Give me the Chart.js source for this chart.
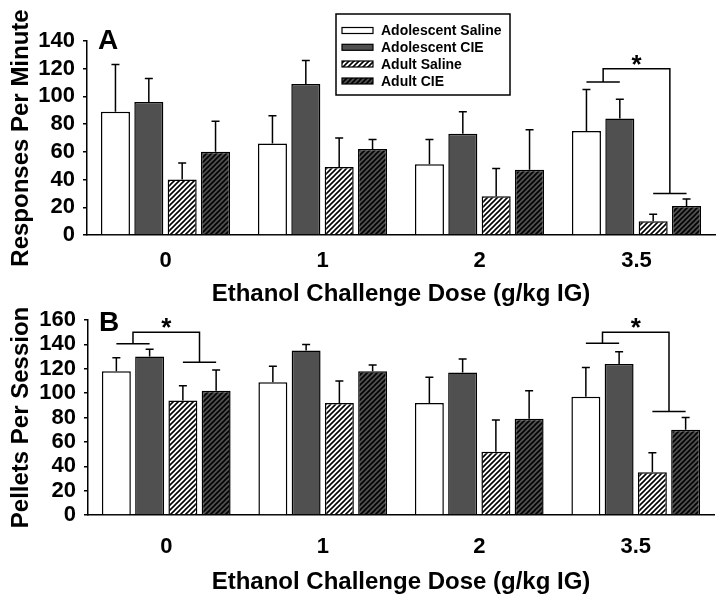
<!DOCTYPE html>
<html>
<head>
<meta charset="utf-8">
<script src="https://cdn.jsdelivr.net/npm/chart.js@4.4.1/dist/chart.umd.min.js"></script>
<style>
  html, body { margin: 0; padding: 0; background: #ffffff; }
  #wrap { position: relative; width: 722px; height: 601px; overflow: hidden; background: #fff; }
  canvas { position: absolute; left: 0; }
  #cA { top: 0; }
  #cB { top: 300px; }
</style>
</head>
<body>
<div id="wrap">
  <canvas id="cA" width="722" height="310"></canvas>
  <canvas id="cB" width="722" height="301"></canvas>
</div>
<script>
// ---------- data ----------
const doses = ['0', '1', '2', '3.5'];
const groupNames = ['Adolescent Saline', 'Adolescent CIE', 'Adult Saline', 'Adult CIE'];

// Panel A: Responses Per Minute (mean and upper SEM)
const respAdolSaline = [89, 66, 51, 75];
const respAdolSalineSem = [34, 20, 18, 30];
const respAdolCIE = [96, 109, 73, 84];
const respAdolCIESem = [17, 17, 16, 14];
const respAdultSaline = [40, 49, 28, 10];
const respAdultSalineSem = [12, 21, 20, 5];
const respAdultCIE = [60, 62, 47, 21];
const respAdultCIESem = [22, 7, 29, 5];

// Panel B: Pellets Per Session (mean and upper SEM)
const pelAdolSaline = [118, 109, 92, 97];
const pelAdolSalineSem = [11, 13, 21, 24];
const pelAdolCIE = [130, 135, 117, 124];
const pelAdolCIESem = [6, 5, 11, 10];
const pelAdultSaline = [94, 92, 52, 35];
const pelAdultSalineSem = [12, 18, 26, 16];
const pelAdultCIE = [102, 118, 79, 70];
const pelAdultCIESem = [17, 5, 23, 10];

// significance brackets: dose index, left-pair level, top level, right-pair level
const respBrackets = [{ cat: 3, left: 110.5, top: 120, right: 30 }];
const pelBrackets = [{ cat: 0, left: 140.5, top: 150, right: 125.3 },
                     { cat: 3, left: 141, top: 150, right: 85 }];

// ---------- styles ----------
const FONT = '"Liberation Sans", Arial, Helvetica, sans-serif';
const DARK = '#505050';

function hatch(bg) {
  const s = 5;
  const c = document.createElement('canvas');
  c.width = s; c.height = s;
  const g = c.getContext('2d');
  g.fillStyle = bg; g.fillRect(0, 0, s, s);
  g.strokeStyle = '#000'; g.lineWidth = 1.6; g.lineCap = 'square';
  g.beginPath();
  g.moveTo(0, s); g.lineTo(s, 0);
  g.moveTo(-1, 1); g.lineTo(1, -1);
  g.moveTo(s - 1, s + 1); g.lineTo(s + 1, s - 1);
  g.stroke();
  return g.createPattern(c, 'repeat');
}
const fills = ['#ffffff', DARK, hatch('#ffffff'), hatch(DARK)];

function makeDatasets(vals, sems) {
  return vals.map((v, i) => ({
    label: groupNames[i],
    data: v,
    errors: sems[i],
    backgroundColor: fills[i],
    borderColor: '#000',
    borderWidth: 1.5,
    borderSkipped: 'bottom',
    categoryPercentage: 0.85,
    barPercentage: 0.87
  }));
}

const errorBars = {
  id: 'errorBars',
  afterDatasetsDraw(chart) {
    const ctx = chart.ctx, y = chart.scales.y;
    ctx.save();
    ctx.strokeStyle = '#000'; ctx.lineWidth = 1.5;
    chart.data.datasets.forEach((ds, i) => {
      chart.getDatasetMeta(i).data.forEach((bar, j) => {
        const top = y.getPixelForValue(ds.data[j] + ds.errors[j]);
        ctx.beginPath();
        ctx.moveTo(bar.x, bar.y); ctx.lineTo(bar.x, top);
        ctx.moveTo(bar.x - 4, top); ctx.lineTo(bar.x + 4, top);
        ctx.stroke();
      });
    });
    ctx.restore();
  }
};

const brackets = {
  id: 'brackets',
  afterDraw(chart, args, opts) {
    const ctx = chart.ctx, y = chart.scales.y;
    ctx.save();
    ctx.strokeStyle = '#000'; ctx.lineWidth = 1.5;
    (opts.items || []).forEach(b => {
      const xs = [0, 1, 2, 3].map(i => chart.getDatasetMeta(i).data[b.cat].x);
      const yl = y.getPixelForValue(b.left), yt = y.getPixelForValue(b.top), yr = y.getPixelForValue(b.right);
      const m1 = (xs[0] + xs[1]) / 2, m2 = (xs[2] + xs[3]) / 2;
      ctx.beginPath();
      ctx.moveTo(xs[0], yl); ctx.lineTo(xs[1], yl);
      ctx.moveTo(m1, yl); ctx.lineTo(m1, yt); ctx.lineTo(m2, yt); ctx.lineTo(m2, yr);
      ctx.moveTo(xs[2], yr); ctx.lineTo(xs[3], yr);
      ctx.stroke();
      ctx.fillStyle = '#000';
      ctx.font = 'bold 26px ' + FONT;
      ctx.textAlign = 'center'; ctx.textBaseline = 'alphabetic';
      ctx.fillText('*', (m1 + m2) / 2, yt - 11 + 15);
    });
    ctx.restore();
  }
};

const panelLetter = {
  id: 'panelLetter',
  afterDraw(chart, args, opts) {
    const ctx = chart.ctx, a = chart.chartArea;
    ctx.save();
    ctx.fillStyle = '#000';
    ctx.font = 'bold 28px ' + FONT;
    ctx.textAlign = 'left'; ctx.textBaseline = 'alphabetic';
    ctx.fillText(opts.text, a.left + opts.dx, opts.baseline);
    ctx.restore();
  }
};

const boxLegend = {
  id: 'boxLegend',
  afterDraw(chart, args, opts) {
    if (!opts.show) return;
    const ctx = chart.ctx;
    ctx.save();
    ctx.strokeStyle = '#000'; ctx.lineWidth = 1.5;
    ctx.strokeRect(336, 14, 174, 81);
    ctx.font = 'bold 14px ' + FONT;
    ctx.textAlign = 'left'; ctx.textBaseline = 'middle';
    const rows = [30.5, 47.3, 64, 81];
    chart.data.datasets.forEach((ds, i) => {
      const yy = rows[i];
      ctx.fillStyle = ds.backgroundColor;
      ctx.fillRect(342, yy - 3, 31, 6);
      ctx.lineWidth = 1.2;
      ctx.strokeRect(342, yy - 3, 31, 6);
      ctx.fillStyle = '#000';
      ctx.fillText(ds.label, 381, yy + 1);
    });
    ctx.restore();
  }
};

function makeChart(id, vals, sems, opt) {
  return new Chart(document.getElementById(id), {
    type: 'bar',
    data: { labels: doses, datasets: makeDatasets(vals, sems) },
    plugins: [errorBars, brackets, panelLetter, boxLegend],
    options: {
      responsive: false,
      animation: false,
      layout: { padding: { left: 0, right: opt.padRight, top: opt.padTop, bottom: 0 } },
      plugins: {
        legend: { display: false },
        tooltip: { enabled: false },
        brackets: { items: opt.brackets },
        panelLetter: { text: opt.letter, dx: 11, baseline: opt.letterBaseline },
        boxLegend: { show: opt.legend }
      },
      scales: {
        x: {
          grid: { display: false },
          border: { display: true, color: '#000', width: 1.5 },
          ticks: { color: '#000', font: { family: FONT, size: 22, weight: 'bold' }, padding: opt.xTickPad },
          title: { display: true, text: 'Ethanol Challenge Dose (g/kg IG)', color: '#000',
                   font: { family: FONT, size: 24, weight: 'bold', lineHeight: 1 },
                   padding: { top: 0, bottom: opt.xTitlePad } },
          afterFit(s) { s.height = opt.xHeight; }
        },
        y: {
          min: 0, max: opt.max,
          ticks: { stepSize: 20, autoSkip: false, color: '#000',
                   font: { family: FONT, size: 22, weight: 'bold', lineHeight: 1 }, padding: 8 },
          grid: { display: true, drawOnChartArea: false, drawTicks: true, tickLength: 4, color: '#000', lineWidth: 1.5 },
          border: { display: true, color: '#000', width: 1.5 },
          title: { display: true, text: opt.yTitle, color: '#000',
                   font: { family: FONT, size: 24, weight: 'bold', lineHeight: 1 },
                   padding: { top: 9, bottom: 0 } },
          afterFit(s) { s.width = opt.yWidth; }
        }
      }
    }
  });
}

makeChart('cA',
  [respAdolSaline, respAdolCIE, respAdultSaline, respAdultCIE],
  [respAdolSalineSem, respAdolCIESem, respAdultSalineSem, respAdultCIESem],
  { max: 140, yTitle: 'Responses Per Minute', padRight: 7, padTop: 41, xHeight: 75, xTickPad: 5,
    xTitlePad: 4, yWidth: 87, letter: 'A', letterBaseline: 49, legend: true, brackets: respBrackets });

makeChart('cB',
  [pelAdolSaline, pelAdolCIE, pelAdultSaline, pelAdultCIE],
  [pelAdolSalineSem, pelAdolCIESem, pelAdultSalineSem, pelAdultCIESem],
  { max: 160, yTitle: 'Pellets Per Session', padRight: 8, padTop: 20, xHeight: 86, xTickPad: 11,
    xTitlePad: 7, yWidth: 88, letter: 'B', letterBaseline: 31, legend: false, brackets: pelBrackets });
</script>
</body>
</html>
